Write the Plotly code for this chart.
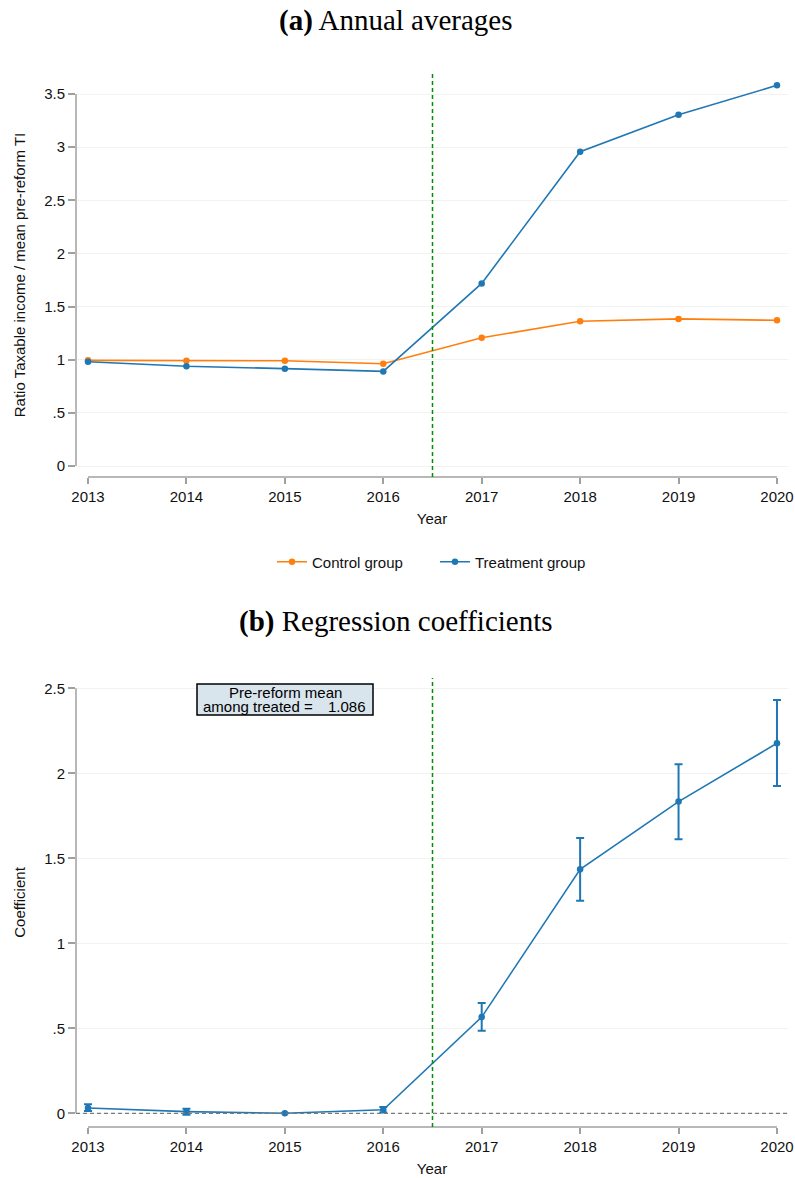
import plotly.graph_objects as go

# ---------------- data ----------------
years = [2013, 2014, 2015, 2016, 2017, 2018, 2019, 2020]
control = [0.994, 0.990, 0.990, 0.962, 1.207, 1.362, 1.384, 1.371]
treatment = [0.981, 0.938, 0.916, 0.890, 1.718, 2.957, 3.305, 3.582]

coef = [0.031, 0.010, 0.000, 0.021, 0.566, 1.436, 1.834, 2.177]
ci_low = [0.013, -0.008, 0.000, 0.004, 0.486, 1.251, 1.612, 1.925]
ci_high = [0.053, 0.027, 0.000, 0.037, 0.649, 1.620, 2.054, 2.432]

top_ticks = [0, 0.5, 1, 1.5, 2, 2.5, 3, 3.5]
top_ticktext = ["0", ".5", "1", "1.5", "2", "2.5", "3", "3.5"]
bot_ticks = [0, 0.5, 1, 1.5, 2, 2.5]
bot_ticktext = ["0", ".5", "1", "1.5", "2", "2.5"]
reform_line = 2016.5
pre_mean = 1.086

# ---------------- style ----------------
W, H = 795, 1178
BLUE = "#1f77b4"
ORANGE = "#ff7f0e"
GREEN = "#009000"
AXC = "#a0a0a0"
GRID = "#f2f2f2"
SANS = "Liberation Sans, Arial, sans-serif"
SERIF = "Liberation Serif, Times New Roman, serif"


def px_x(p):
    return p / W


def px_y(p):
    return 1 - p / H


fig = go.Figure()

fig.add_trace(go.Scatter(
    x=years, y=control, mode="lines+markers", name="Control group",
    line=dict(color=ORANGE, width=1.6), marker=dict(color=ORANGE, size=6.5),
    xaxis="x", yaxis="y"))
fig.add_trace(go.Scatter(
    x=years, y=treatment, mode="lines+markers", name="Treatment group",
    line=dict(color=BLUE, width=1.6), marker=dict(color=BLUE, size=6.5),
    xaxis="x", yaxis="y"))

err_plus = [h - c for h, c in zip(ci_high, coef)]
err_minus = [c - l for c, l in zip(coef, ci_low)]
fig.add_trace(go.Scatter(
    x=years, y=coef, mode="lines+markers", name="Coefficient", showlegend=False,
    line=dict(color=BLUE, width=1.6), marker=dict(color=BLUE, size=6.5),
    error_y=dict(type="data", symmetric=False, array=err_plus, arrayminus=err_minus,
                 color=BLUE, thickness=2, width=4),
    xaxis="x2", yaxis="y2"))

xrange = [2012.878, 2020.112]
common_x = dict(range=xrange, tickvals=years, ticktext=[str(y) for y in years],
                showgrid=False, zeroline=False, showline=False, automargin=False,
                ticks="outside", ticklen=6, tickwidth=1.5, tickcolor=AXC,
                tickfont=dict(family=SANS, size=15, color="#111"),
                title=dict(text="Year", font=dict(family=SANS, size=15, color="#111"), standoff=9))
common_y = dict(showgrid=True, gridcolor=GRID, gridwidth=1, zeroline=False, showline=False,
                automargin=False,
                ticks="outside", ticklen=7, tickwidth=1.5, tickcolor=AXC,
                tickfont=dict(family=SANS, size=15, color="#111"))

top_dom = [px_y(477), px_y(73)]
bot_dom = [px_y(1127), px_y(678)]
xdom = [px_x(76), px_x(788)]

fig.update_layout(
    template="none",
    width=W, height=H, margin=dict(l=0, r=0, t=0, b=0, autoexpand=False),
    paper_bgcolor="white", plot_bgcolor="white",
    xaxis=dict(domain=xdom, anchor="y", **common_x),
    yaxis=dict(domain=top_dom, anchor="x", range=[-0.1035, 3.698],
               tickvals=top_ticks, ticktext=top_ticktext,
               title=dict(text="Ratio Taxable income / mean pre-reform TI",
                          font=dict(family=SANS, size=15, color="#111"), standoff=14),
               **common_y),
    xaxis2=dict(domain=xdom, anchor="y2", **common_x),
    yaxis2=dict(domain=bot_dom, anchor="x2", range=[-0.0806, 2.561],
                tickvals=bot_ticks, ticktext=bot_ticktext,
                title=dict(text="Coefficient", font=dict(family=SANS, size=15, color="#111"), standoff=14),
                **common_y),
    legend=dict(orientation="h", x=px_x(435), xanchor="center", y=px_y(562), yanchor="middle",
                font=dict(family=SANS, size=15, color="#111"), itemwidth=30,
                entrywidth=118, bgcolor="rgba(0,0,0,0)", borderwidth=0),
    showlegend=True,
)

shapes = []
# axis lines (Stata style: spanning only the tick range)
shapes.append(dict(type="line", xref="x domain", yref="y", x0=0, x1=0, y0=top_ticks[0], y1=top_ticks[-1],
                   line=dict(color=AXC, width=1.5)))
shapes.append(dict(type="line", xref="x", yref="y domain", x0=years[0], x1=years[-1], y0=0, y1=0,
                   line=dict(color=AXC, width=1.5)))
shapes.append(dict(type="line", xref="x2 domain", yref="y2", x0=0, x1=0, y0=bot_ticks[0], y1=bot_ticks[-1],
                   line=dict(color=AXC, width=1.5)))
shapes.append(dict(type="line", xref="x2", yref="y2 domain", x0=years[0], x1=years[-1], y0=0, y1=0,
                   line=dict(color=AXC, width=1.5)))
# reform lines
shapes.append(dict(type="line", xref="x", yref="y domain", x0=reform_line, x1=reform_line, y0=0, y1=1,
                   line=dict(color=GREEN, width=1.5, dash="4px,3px")))
shapes.append(dict(type="line", xref="x2", yref="y2 domain", x0=reform_line, x1=reform_line, y0=0, y1=1,
                   line=dict(color=GREEN, width=1.5, dash="4px,3px")))
# zero line in coefficient plot
shapes.append(dict(type="line", xref="x2 domain", yref="y2", x0=0, x1=1, y0=0, y1=0,
                   line=dict(color="#7a7a7a", width=1.2, dash="4px,3px")))
# annotation box
shapes.append(dict(type="rect", xref="paper", yref="paper",
                   x0=px_x(197), x1=px_x(373), y0=px_y(715), y1=px_y(684),
                   fillcolor="#d9e5ec", line=dict(color="black", width=1.5)))
fig.update_layout(shapes=shapes)

annotations = [
    dict(text="<b>(a)</b> Annual averages", xref="paper", yref="paper", x=px_x(396), y=px_y(20),
         xanchor="center", yanchor="middle", showarrow=False,
         font=dict(family=SERIF, size=29, color="black")),
    dict(text="<b>(b)</b> Regression coefficients", xref="paper", yref="paper", x=px_x(396), y=px_y(621),
         xanchor="center", yanchor="middle", showarrow=False,
         font=dict(family=SERIF, size=29, color="black")),
    dict(text="Pre-reform mean", xref="paper", yref="paper", x=px_x(285), y=px_y(692.5),
         xanchor="center", yanchor="middle", showarrow=False,
         font=dict(family=SANS, size=15, color="black")),
    dict(text="among treated =", xref="paper", yref="paper", x=px_x(201), y=px_y(707),
         xanchor="left", yanchor="middle", showarrow=False,
         font=dict(family=SANS, size=15, color="black")),
    dict(text=f"{pre_mean:.3f}", xref="paper", yref="paper", x=px_x(368), y=px_y(707),
         xanchor="right", yanchor="middle", showarrow=False,
         font=dict(family=SANS, size=15, color="black")),
]
fig.update_layout(annotations=annotations)

fig.write_html("out.html", config={"displayModeBar": False},
               post_script="document.body.style.margin='0';")
